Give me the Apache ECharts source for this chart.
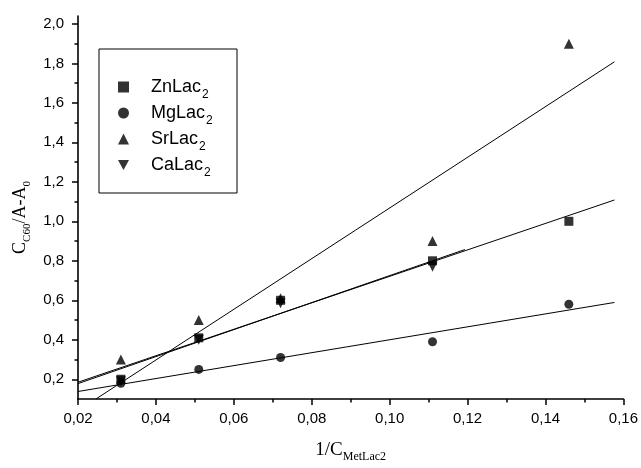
<!DOCTYPE html>
<html>
<head>
<meta charset="utf-8">
<script src="https://cdn.jsdelivr.net/npm/echarts@6/dist/echarts.min.js"></script>
<style>
	html, body { margin: 0; padding: 0; background: #fff; }
	#plot { width: 641px; height: 468px; }
</style>
</head>
<body>
<div id="plot"></div>
<script>
// concentrations (1/C MetLac2)
const xZn = [0.031, 0.051, 0.072, 0.111, 0.146];
const yZn = [0.20, 0.41, 0.60, 0.80, 1.00];
const xMg = [0.031, 0.051, 0.072, 0.111, 0.146];
const yMg = [0.18, 0.25, 0.31, 0.39, 0.58];
const xSr = [0.031, 0.051, 0.072, 0.111, 0.146];
const ySr = [0.30, 0.50, 0.61, 0.90, 1.90];
const xCa = [0.031, 0.051, 0.072, 0.111];
const yCa = [0.19, 0.40, 0.585, 0.77];

// fitted lines, end points
const fitZn = [[0.02, 0.185], [0.1577, 1.108]];
const fitMg = [[0.02, 0.138], [0.1577, 0.589]];
const fitSr = [[0.0246, 0.10], [0.1577, 1.808]];
const fitCa = [[0.02, 0.178], [0.1193, 0.857]];

const names = ['ZnLac', 'MgLac', 'SrLac', 'CaLac'];
const yTicks = [0.2, 0.4, 0.6, 0.8, 1.0, 1.2, 1.4, 1.6, 1.8, 2.0];
const yMinorTicks = [0.3, 0.5, 0.7, 0.9, 1.1, 1.3, 1.5, 1.7, 1.9];

const downTriangle = 'path://M0,0L10,0L5,9Z';

function pairs(xs, ys) {
	const out = [];
	for (let i = 0; i < Math.min(xs.length, ys.length); i++) {
		out.push([xs[i], ys[i]]);
	}
	return out;
}

function comma(v, digits) {
	return v.toFixed(digits).replace('.', ',');
}

function scatter(name, xs, ys, symbol, size) {
	return {
		name: name,
		type: 'scatter',
		symbol: symbol,
		symbolSize: size,
		itemStyle: { color: '#000' },
		data: pairs(xs, ys),
		z: 3
	};
}

function fitLine(points) {
	return {
		type: 'line',
		showSymbol: false,
		silent: true,
		lineStyle: { color: '#000', width: 1 },
		data: points,
		z: 2
	};
}

const sansFont = 'Liberation Sans';
const serifFont = 'Liberation Serif';

const option = {
	animation: false,
	backgroundColor: '#fff',
	grid: { left: 78, right: 15, top: 16, bottom: 64 },
	legend: {
		orient: 'vertical',
		left: 118,
		top: 78,
		padding: 0,
		itemGap: 3,
		itemWidth: 11,
		itemHeight: 11,
		data: [
			{ name: names[0], icon: 'rect' },
			{ name: names[1], icon: 'circle' },
			{ name: names[2], icon: 'triangle' },
			{ name: names[3], icon: downTriangle }
		],
		formatter: name => '{n|' + name + '}{s|2}',
		textStyle: {
			rich: {
				n: { fontFamily: sansFont, fontSize: 18, lineHeight: 18, verticalAlign: 'top', color: '#000', padding: [0, 0, 0, 17] },
				s: { fontFamily: sansFont, fontSize: 12, lineHeight: 12, verticalAlign: 'top', color: '#000', padding: [11, 0, 0, 1] }
			}
		}
	},
	graphic: [
		{
			type: 'rect',
			shape: { x: 99, y: 49, width: 138, height: 144 },
			style: { fill: 'none', stroke: '#000', lineWidth: 1 }
		}
	],
	xAxis: {
		type: 'value',
		min: 0.02,
		max: 0.16,
		interval: 0.02,
		name: '{m|1/C}{s|MetLac2}',
		nameLocation: 'middle',
		nameGap: 42,
		nameTextStyle: {
			rich: {
				m: { fontFamily: serifFont, fontSize: 19, lineHeight: 19, verticalAlign: 'top', color: '#000' },
				s: { fontFamily: serifFont, fontSize: 12, lineHeight: 12, verticalAlign: 'top', color: '#000', padding: [10, 0, 0, 0] }
			}
		},
		axisLine: { lineStyle: { color: '#000', width: 1.6 } },
		axisTick: { inside: false, length: 6, lineStyle: { color: '#000', width: 1.5 } },
		minorTick: { show: true, splitNumber: 2, length: 3.5, lineStyle: { color: '#000', width: 1.5 } },
		splitLine: { show: false },
		axisLabel: {
			margin: 12,
			fontFamily: sansFont,
			fontSize: 15,
			color: '#000',
			formatter: v => comma(v, 2)
		}
	},
	yAxis: [
		{
			type: 'value',
			min: 0.1,
			max: 2.04,
			name: '{m|C}{s|C60}{m|/A-A}{s|0}',
			nameLocation: 'middle',
			nameRotate: 90,
			nameGap: 48,
			nameTextStyle: {
				padding: [0, 20, 0, 0],
				rich: {
					m: { fontFamily: serifFont, fontSize: 18, lineHeight: 18, verticalAlign: 'top', color: '#000' },
					s: { fontFamily: serifFont, fontSize: 11, lineHeight: 11, verticalAlign: 'top', color: '#000', padding: [10, 0, 0, 0] }
				}
			},
			axisLine: { show: true, lineStyle: { color: '#000', width: 1.6 } },
			axisTick: { show: true, inside: false, length: 6, customValues: yTicks, lineStyle: { color: '#000', width: 1.5 } },
			splitLine: { show: false },
			axisLabel: {
				customValues: yTicks,
				margin: 14,
				fontFamily: sansFont,
				fontSize: 15,
				color: '#000',
				formatter: v => comma(v, 1)
			}
		},
		{
			type: 'value',
			position: 'left',
			min: 0.1,
			max: 2.04,
			axisLine: { show: false },
			axisTick: { show: true, inside: false, length: 3.5, customValues: yMinorTicks, lineStyle: { color: '#000', width: 1.5 } },
			axisLabel: { show: false },
			splitLine: { show: false }
		}
	],
	series: [
		fitLine(fitZn),
		fitLine(fitMg),
		fitLine(fitSr),
		fitLine(fitCa),
		scatter(names[0], xZn, yZn, 'rect', 9),
		scatter(names[1], xMg, yMg, 'circle', 9),
		scatter(names[2], xSr, ySr, 'triangle', 10),
		scatter(names[3], xCa, yCa, downTriangle, 10)
	]
};

const plot = echarts.init(document.getElementById('plot'));
plot.setOption(option);
</script>
</body>
</html>
